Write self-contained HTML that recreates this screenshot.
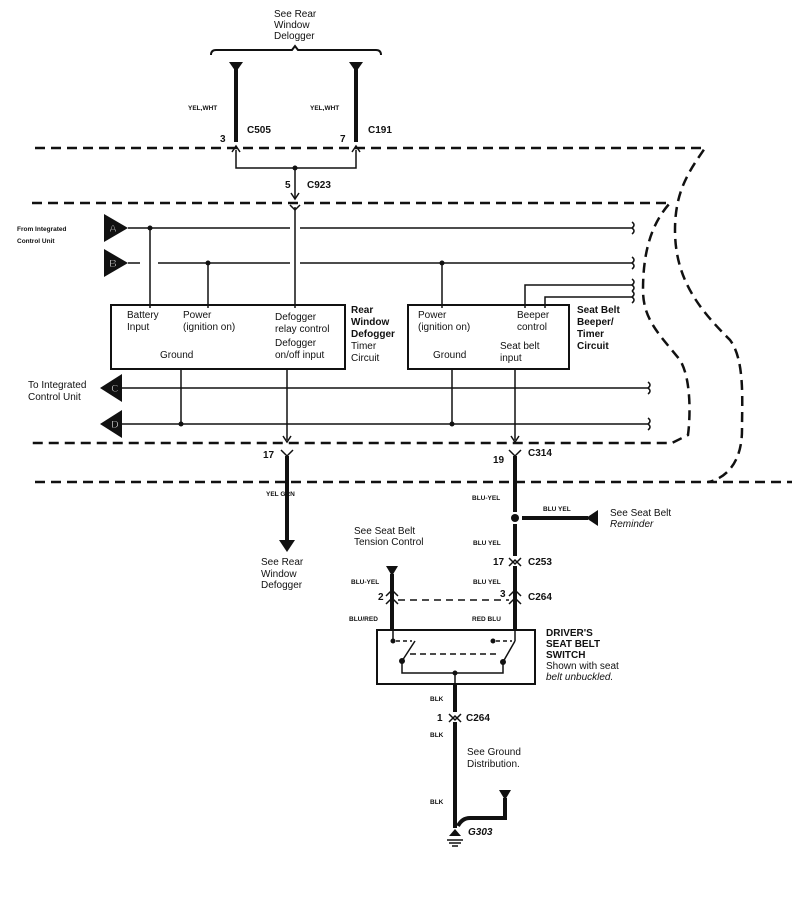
<!DOCTYPE html>
<html><head><meta charset="utf-8"><style>
html,body{margin:0;padding:0;background:#fff;}
svg{display:block;font-family:"Liberation Sans",Arial,sans-serif;}
.t{font-size:10px;fill:#111;}
.b{font-size:10px;font-weight:bold;fill:#111;}
.s{font-size:6.5px;font-weight:bold;fill:#111;}
</style></head><body>
<svg width="792" height="897" viewBox="0 0 792 897" xmlns="http://www.w3.org/2000/svg">
<g fill="none" stroke="#111">
<g stroke-width="2.5" stroke-dasharray="10,6">
<path d="M35 148 H705 C690 170 675 190 675 230 C675 280 700 310 730 340 C745 360 742 400 742 430 C742 460 728 478 708 482"/>
<path d="M32 203 H670 C650 225 643 255 643 290 C643 320 660 335 680 360 C692 380 690 420 688 435 L672 443 H30"/>
<path d="M35 482 H792"/>
</g>
<path d="M211 55 Q211 50 216 50 H292 L295 46 L298 50 H376 Q381 50 381 55" stroke-width="2"/>
<g stroke-width="4"><path d="M236 68 V142"/><path d="M356 68 V142"/></g>
<g stroke-width="1.5">
<path d="M236 150 V168 H356 V150"/>
<path d="M232 152 L236 146 L240 152"/><path d="M352 152 L356 146 L360 152"/>
<path d="M295 168 V198"/><path d="M291 193 L295 199 L299 193"/>
<path d="M290 205 L295 210 L300 205"/>
<path d="M295 207 V308"/>
<path d="M128 228 H290 M300 228 H632 q4 -3 0 -6 M632 228 q4 3 0 6"/>
<path d="M128 263 H140 M158 263 H290 M300 263 H632"/>
<path d="M150 228 V308 M208 263 V308 M442 263 V308"/>
<path d="M525 308 V285 H632 M545 308 V297 H632"/>
<path d="M632 263 q4 -3 0 -6 M632 263 q4 3 0 6 M632 285 q4 -3 0 -6 M632 285 q4 3 0 6 M632 297 q4 -3 0 -6 M632 297 q4 3 0 6"/>
<rect x="111" y="305" width="234" height="64" stroke-width="2"/>
<rect x="408" y="305" width="161" height="64" stroke-width="2"/>
<path d="M122 388 H648 q4 -3 0 -6 M648 388 q4 3 0 6"/>
<path d="M122 424 H648 q4 -3 0 -6 M648 424 q4 3 0 6"/>
<path d="M181 369 V424 M287 369 V440 M452 369 V424 M515 369 V440"/>
<path d="M283 436 L287 442 L291 436 M511 436 L515 442 L519 436"/>
<path d="M281 450 L287 456 L293 450 M509 450 L515 456 L521 450"/>
</g>
<g fill="#111" stroke="none">
<circle cx="150" cy="228" r="2.5"/><circle cx="208" cy="263" r="2.5"/><circle cx="442" cy="263" r="2.5"/>
<circle cx="181" cy="424" r="2.5"/><circle cx="452" cy="424" r="2.5"/><circle cx="295" cy="168" r="2.5"/>
<polygon points="229,62 243,62 236,72"/><polygon points="349,62 363,62 356,72"/>
<polygon points="104,214 104,242 128,228"/><polygon points="104,249 104,277 128,263"/>
<polygon points="122,374 122,402 100,388"/><polygon points="122,410 122,438 100,424"/>
<polygon points="279,540 295,540 287,552"/>
<circle cx="515" cy="518" r="4"/>
<polygon points="598,510 598,526 586,518"/>
<polygon points="386,566 398,566 392,576"/><polygon points="499,790 511,790 505,800"/>
<polygon points="449,836 461,836 455,829"/>
</g>
<text x="109" y="232" font-size="11" font-weight="bold" fill="#fff">A</text>
<text x="109" y="267" font-size="11" font-weight="bold" fill="#fff">B</text>
<text x="111" y="392" font-size="11" font-weight="bold" fill="#fff">C</text>
<text x="111" y="428" font-size="11" font-weight="bold" fill="#fff">D</text>
<g stroke-width="4">
<path d="M287 456 V542"/>
<path d="M515 456 V512 M515 524 V556 M515 566 V630"/>
<path d="M522 518 H588"/>
<path d="M392 574 V630"/>
<path d="M455 685 V712 M455 722 V828 M458 826 Q462 818 470 818 H505 V798"/>
</g>
<g stroke-width="1.5">
<path d="M509 558 L515 564 L521 558 M509 566 L515 560 L521 566"/>
<path d="M386 596 L392 590 L398 596 M386 604 L392 598 L398 604"/>
<path d="M509 596 L515 590 L521 596 M509 604 L515 598 L521 604"/>
<path d="M449 714 L455 720 L461 714 M449 722 L455 716 L461 722"/>
<path d="M398 600 H509" stroke-dasharray="7,5"/>
<rect x="377" y="630" width="158" height="54" stroke-width="2"/>
<path d="M393 630 V641 M515 630 V641 M402 661 L415 641 M503 662 L515 641 M402 661 V673 H503 V662 M455 673 V685"/>
<path d="M396 641 H412 M496 641 H512" stroke-dasharray="4,3"/>
<path d="M410 654 H500" stroke-dasharray="6,4"/>
<path d="M447 840 H463 M449 843 H461 M452 846 H458"/>
</g>
<g fill="#111"><circle cx="393" cy="641" r="2"/><circle cx="493" cy="641" r="2"/><circle cx="402" cy="661" r="2.5"/><circle cx="503" cy="662" r="2.5"/><circle cx="455" cy="673" r="2"/></g>
</g>
<text class="t" x="274" y="17">See Rear</text><text class="t" x="274" y="28">Window</text><text class="t" x="274" y="39">Delogger</text>
<text class="s" x="188" y="110">YEL,WHT</text><text class="s" x="310" y="110">YEL,WHT</text>
<text class="b" x="220" y="142">3</text><text class="b" x="247" y="133">C505</text>
<text class="b" x="340" y="142">7</text><text class="b" x="368" y="133">C191</text>
<text class="b" x="285" y="188">5</text><text class="b" x="307" y="188">C923</text>
<text class="s" x="17" y="231" font-size="7.5">From Integrated</text><text class="s" x="17" y="243" font-size="7.5">Control Unit</text>
<text class="t" x="127" y="318">Battery</text><text class="t" x="127" y="330">Input</text>
<text class="t" x="183" y="318">Power</text><text class="t" x="183" y="330">(ignition on)</text>
<text class="t" x="275" y="320">Defogger</text><text class="t" x="275" y="332">relay control</text>
<text class="t" x="275" y="346">Defogger</text><text class="t" x="275" y="358">on/off input</text>
<text class="t" x="160" y="358">Ground</text>
<text class="b" x="351" y="313">Rear</text><text class="b" x="351" y="325">Window</text><text class="b" x="351" y="337">Defogger</text><text class="t" x="351" y="349">Timer</text><text class="t" x="351" y="361">Circuit</text>
<text class="t" x="418" y="318">Power</text><text class="t" x="418" y="330">(ignition on)</text>
<text class="t" x="517" y="318">Beeper</text><text class="t" x="517" y="330">control</text>
<text class="t" x="500" y="349">Seat belt</text><text class="t" x="500" y="361">input</text>
<text class="t" x="433" y="358">Ground</text>
<text class="b" x="577" y="313">Seat Belt</text><text class="b" x="577" y="325">Beeper/</text><text class="b" x="577" y="337">Timer</text><text class="b" x="577" y="349">Circuit</text>
<text class="t" x="28" y="388">To Integrated</text><text class="t" x="28" y="400">Control Unit</text>
<text class="b" x="263" y="458">17</text><text class="b" x="493" y="463">19</text><text class="b" x="528" y="456">C314</text>
<text class="s" x="266" y="496">YEL GRN</text><text class="s" x="472" y="500">BLU-YEL</text>
<text class="s" x="543" y="511">BLU YEL</text>
<text class="t" x="610" y="516">See Seat Belt</text><text class="t" x="610" y="527" font-style="italic">Reminder</text>
<text class="t" x="261" y="565">See Rear</text><text class="t" x="261" y="577">Window</text><text class="t" x="261" y="588">Defogger</text>
<text class="t" x="354" y="534">See Seat Belt</text><text class="t" x="354" y="545">Tension Control</text>
<text class="s" x="473" y="545">BLU YEL</text>
<text class="b" x="493" y="565">17</text><text class="b" x="528" y="565">C253</text>
<text class="s" x="351" y="584">BLU-YEL</text><text class="s" x="473" y="584">BLU YEL</text>
<text class="b" x="378" y="600">2</text><text class="b" x="500" y="597">3</text><text class="b" x="528" y="600">C264</text>
<text class="s" x="349" y="621">BLU/RED</text><text class="s" x="472" y="621">RED BLU</text>
<text class="b" x="546" y="636">DRIVER'S</text><text class="b" x="546" y="647">SEAT BELT</text><text class="b" x="546" y="658">SWITCH</text>
<text class="t" x="546" y="669">Shown with seat</text><text class="t" x="546" y="680" font-style="italic">belt unbuckled.</text>
<text class="s" x="430" y="701">BLK</text>
<text class="b" x="437" y="721">1</text><text class="b" x="466" y="721">C264</text>
<text class="s" x="430" y="737">BLK</text>
<text class="t" x="467" y="755">See Ground</text><text class="t" x="467" y="767">Distribution.</text>
<text class="s" x="430" y="804">BLK</text>
<text class="b" x="468" y="835" font-style="italic">G303</text>
</svg>
</body></html>
